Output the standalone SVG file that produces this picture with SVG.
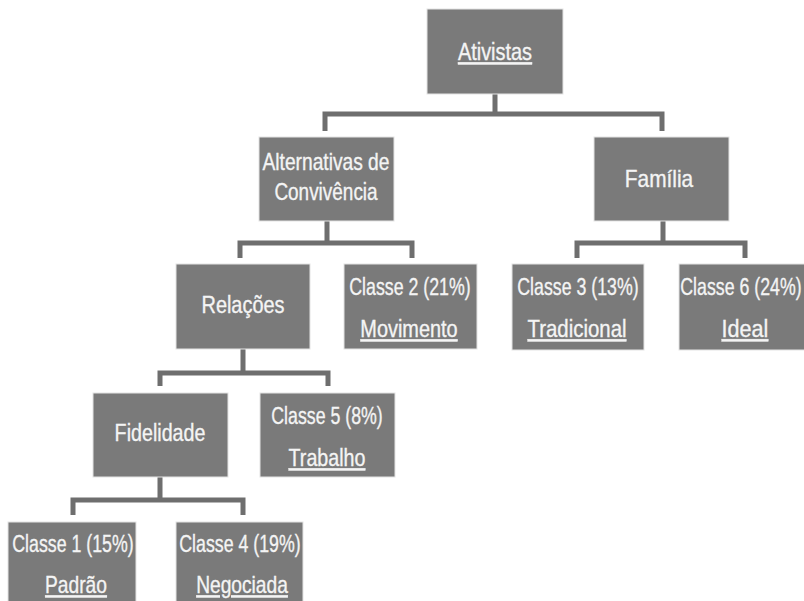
<svg xmlns="http://www.w3.org/2000/svg" width="804" height="601" viewBox="0 0 804 601">
<style>
.box{fill:#7a7a7a;stroke:#e4e4e4;stroke-width:1}
.t{font-family:"Liberation Sans",Arial,sans-serif;font-size:24px;fill:#f4f4f4;stroke:#f4f4f4;stroke-width:0.35;text-anchor:middle}
.u{text-decoration:underline}
.c{fill:none;stroke:#6e6e6e;stroke-width:5;stroke-linejoin:miter}
</style>
<rect width="804" height="601" fill="#ffffff"/>
<g id="connectors">
<path class="c" d="M495,94 V114 M325,131 V114 H662 V131"/>
<path class="c" d="M327,221 V243 M240,258 V243 H412 V258"/>
<path class="c" d="M663,221 V243 M577,258 V243 H745 V258"/>
<path class="c" d="M243,349 V373 M160,386 V373 H328 V386"/>
<path class="c" d="M160,477 V500 M73,515 V500 H243 V515"/>
</g>
<g id="ativistas">
<rect class="box" x="427" y="9" width="136" height="85"/>
<text class="t u" transform="translate(495,60) scale(0.83,1)">Ativistas</text>
</g>
<g id="alternativas">
<rect class="box" x="259" y="137" width="135" height="84"/>
<text class="t" transform="translate(326,170) scale(0.8,1)">Alternativas de</text>
<text class="t" transform="translate(326,200) scale(0.79,1)">Convivência</text>
</g>
<g id="familia">
<rect class="box" x="594" y="137" width="135" height="84"/>
<text class="t" transform="translate(659,187) scale(0.87,1)">Família</text>
</g>
<g id="relacoes">
<rect class="box" x="176" y="264" width="134" height="85"/>
<text class="t" transform="translate(243,313) scale(0.83,1)">Relações</text>
</g>
<g id="classe2">
<rect class="box" x="344" y="264" width="133" height="85"/>
<text class="t" transform="translate(410,295) scale(0.74,1)">Classe 2 (21%)</text>
<text class="t u" transform="translate(409,337) scale(0.83,1)">Movimento</text>
</g>
<g id="classe3">
<rect class="box" x="512" y="264" width="132" height="86"/>
<text class="t" transform="translate(578,295) scale(0.74,1)">Classe 3 (13%)</text>
<text class="t u" transform="translate(577,337) scale(0.85,1)">Tradicional</text>
</g>
<g id="classe6">
<rect class="box" x="679" y="264" width="132" height="86"/>
<text class="t" transform="translate(741,295) scale(0.74,1)">Classe 6 (24%)</text>
<text class="t u" transform="translate(745,337) scale(0.9,1)">Ideal</text>
</g>
<g id="fidelidade">
<rect class="box" x="93" y="393" width="135" height="84"/>
<text class="t" transform="translate(160,441) scale(0.82,1)">Fidelidade</text>
</g>
<g id="classe5">
<rect class="box" x="260" y="393" width="135" height="84"/>
<text class="t" transform="translate(327,424) scale(0.74,1)">Classe 5 (8%)</text>
<text class="t u" transform="translate(327,466) scale(0.82,1)">Trabalho</text>
</g>
<g id="classe1">
<rect class="box" x="8" y="522" width="128" height="86"/>
<text class="t" transform="translate(73,552) scale(0.74,1)">Classe 1 (15%)</text>
<text class="t u" transform="translate(76,593) scale(0.8,1)">Padrão</text>
</g>
<g id="classe4">
<rect class="box" x="176" y="522" width="127" height="86"/>
<text class="t" transform="translate(240,552) scale(0.74,1)">Classe 4 (19%)</text>
<text class="t u" transform="translate(242,593) scale(0.8,1)">Negociada</text>
</g>
</svg>
